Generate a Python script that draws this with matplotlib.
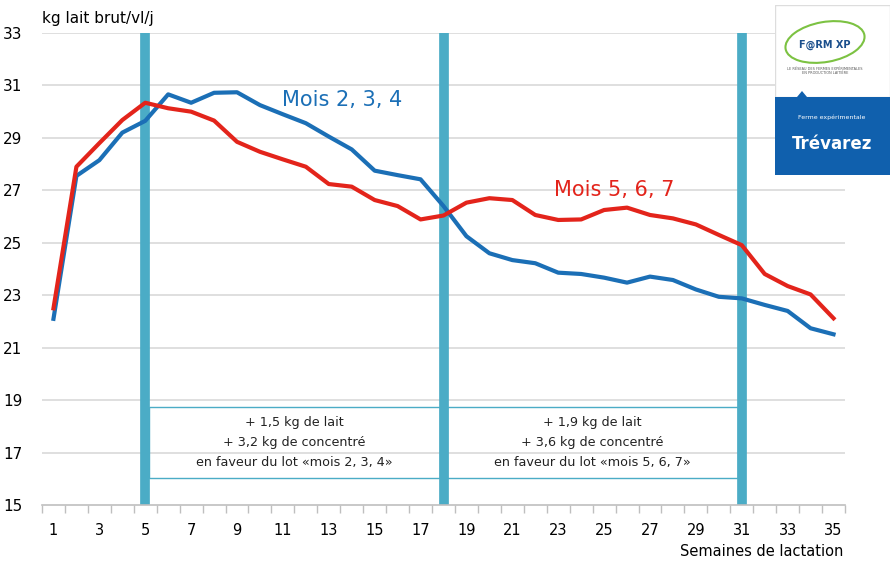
import matplotlib.pyplot as plt
import numpy as np
from matplotlib.patches import Rectangle, Ellipse, Polygon

# data ---------------------------------------------
semaines = np.arange(1, 36)
mois_234 = [22.1, 27.55, 28.15, 29.2, 29.65, 30.66, 30.34, 30.72, 30.74, 30.25,
            29.9, 29.56, 29.05, 28.56, 27.75, 27.58, 27.42, 26.4, 25.25, 24.6,
            24.34, 24.22, 23.86, 23.81, 23.67, 23.48, 23.71, 23.58, 23.22, 22.94,
            22.88, 22.63, 22.4, 21.74, 21.51]
mois_567 = [22.5, 27.9, 28.8, 29.68, 30.34, 30.13, 30.0, 29.66, 28.85, 28.47,
            28.18, 27.9, 27.24, 27.14, 26.63, 26.4, 25.89, 26.04, 26.53, 26.7,
            26.63, 26.06, 25.87, 25.89, 26.25, 26.34, 26.06, 25.93, 25.7, 25.3,
            24.91, 23.81, 23.35, 23.03, 22.12]
changements = [5, 18, 31]
textes_lots = ["+ 1,5 kg de lait\n+ 3,2 kg de concentré\nen faveur du lot «mois 2, 3, 4»",
               "+ 1,9 kg de lait\n+ 3,6 kg de concentré\nen faveur du lot «mois 5, 6, 7»"]
yticks = np.arange(15, 34, 2)
xticks = np.arange(1, 36, 2)

bleu = '#1B6FB6'
rouge = '#E3241B'
teal = '#4BACC6'

# figure -------------------------------------------
fig = plt.figure(figsize=(8.9, 5.61), dpi=100)
ax = fig.add_axes([42/890, 56/561, 803/890, 472/561])

for y in yticks[1:]:
    ax.axhline(y, color='#D9D9D9', lw=1.2, zorder=0)

for s in changements:
    ax.plot([s, s], [15, 33], color=teal, lw=7, solid_capstyle='butt', zorder=2)

# boxes between the bars
for i, t in enumerate(textes_lots):
    x0 = changements[i] + 0.17
    x1 = changements[i+1] - 0.17
    ax.add_patch(Rectangle((x0, 16.03), x1 - x0, 2.71, fill=False,
                           edgecolor=teal, lw=1, zorder=1))
    ax.text((x0 + x1) / 2, 17.4, t, ha='center', va='center', fontsize=9.2,
            linespacing=1.7, color='#222222')

ax.plot(semaines, mois_234, color=bleu, lw=3.0, zorder=3)
ax.plot(semaines, mois_567, color=rouge, lw=3.0, zorder=4)

ax.text(13.6, 30.45, "Mois 2, 3, 4", color=bleu, fontsize=15, ha='center', va='center')
ax.text(25.45, 27.0, "Mois 5, 6, 7", color=rouge, fontsize=15, ha='center', va='center')

ax.set_xlim(0.5, 35.5)
ax.set_ylim(15, 33)
ax.set_yticks(yticks)
ax.set_xticks(xticks)
ax.set_xticks(np.arange(0.5, 36, 1), minor=True)
ax.tick_params(axis='y', length=0, labelsize=11, pad=14)
ax.tick_params(axis='x', which='major', length=0, labelsize=10.5, pad=13)
ax.tick_params(axis='x', which='minor', length=6, color='#BFBFBF', width=1)
for sp in ['top', 'right', 'left']:
    ax.spines[sp].set_visible(False)
ax.spines['bottom'].set_color('#BFBFBF')
ax.spines['bottom'].set_linewidth(1.2)

fig.text(42/890, 1 - 18/561, "kg lait brut/vl/j", fontsize=11, va='center', ha='left')
fig.text(843/890, 1 - 551/561, "Semaines de lactation", fontsize=10.5, va='center',
         ha='right')

# logo ----------------------------------------------
lg = fig.add_axes([775/890, (561-175)/561, 115/890, 170/561])
lg.set_xlim(0, 115)
lg.set_ylim(0, 170)
lg.axis('off')
lg.add_patch(Rectangle((0, 78), 115, 92, facecolor='white', edgecolor='#DDDDDD', lw=1))
lg.add_patch(Ellipse((50, 133), 80, 40, angle=10, fill=False, edgecolor='#7CC242', lw=1.5))
lg.text(50, 130, "F@RM XP", fontsize=7, weight='bold', color='#1B4F8C', ha='center', va='center')
lg.text(50, 104, "LE RÉSEAU DES FERMES EXPÉRIMENTALES\nEN PRODUCTION LAITIÈRE",
        fontsize=2.5, color='#555555', ha='center', va='center')
lg.add_patch(Rectangle((0, 0), 115, 78, facecolor='#1060AD', edgecolor='none'))
lg.add_patch(Polygon([[22, 78], [32, 78], [27, 84]], facecolor='#1060AD', edgecolor='none'))
lg.text(57, 58, "Ferme expérimentale", fontsize=4.5, color='white', ha='center', va='center')
lg.text(57, 31, "Trévarez", fontsize=12, weight='bold', color='white', ha='center', va='center')

fig.savefig('out.png', dpi=100)
